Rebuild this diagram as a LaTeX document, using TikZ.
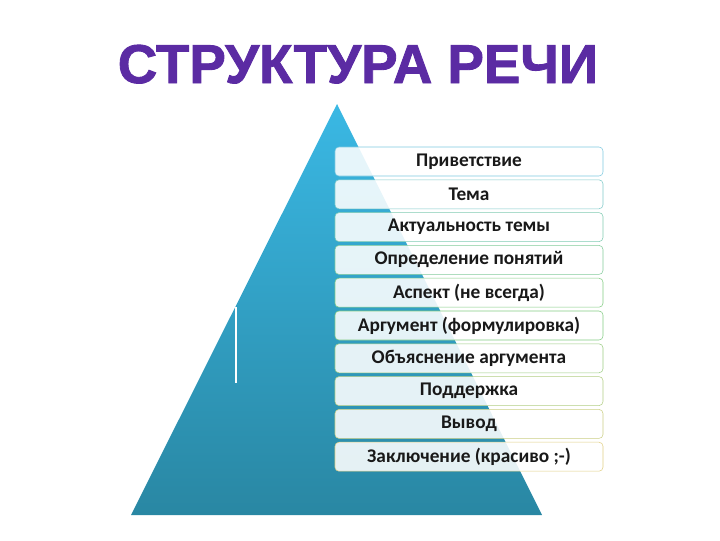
\documentclass[tikz,border=0pt]{standalone}
\usepackage{fontspec}
\setmainfont{Carlito}
\newfontfamily\headfont[BoldFeatures={FakeBold=1.6}]{Liberation Sans}
\definecolor{pyrtop}{HTML}{3AB8E4}
\definecolor{pyrbot}{HTML}{2987A3}
\definecolor{bblue}{HTML}{7FC9E0}
\definecolor{bgreen}{HTML}{84CC84}
\definecolor{byellow}{HTML}{E2D086}
\definecolor{headcol}{HTML}{5B2BA3}
\tikzset{
  stage/.style={draw, rounded corners=3pt, fill=white, fill opacity=0.88, text opacity=1,
    minimum width=201pt, minimum height=21.75pt, inner sep=0pt, text=black!90,
    font=\bfseries\fontsize{14.5}{17}\selectfont},
}
\begin{document}
\begin{tikzpicture}[x=0.75pt,y=0.75pt,yscale=-1,xscale=1]
            \useasboundingbox (0,0) rectangle (720,540);
            %title
            \node[anchor=base, text=headcol, font=\headfont\bfseries\fontsize{41}{48}\selectfont] (title) at (358,83) {СТРУКТУРА РЕЧИ};
            %
            %pyramid
            \shade[top color=pyrtop, bottom color=pyrbot] (337,104) -- (542,515) -- (131,515) -- cycle;
            \draw[white, line width=0.9pt] (236,307) -- (236,383);
            %
            %stages
            \foreach \txt [count=\i] in {Приветствие, Тема, Актуальность темы, Определение понятий, Аспект (не всегда), Аргумент (формулировка), Объяснение аргумента, Поддержка, Вывод, Заключение (красиво ;-)} {
                \pgfmathtruncatemacro\pa{25*(\i-1)}
                \pgfmathtruncatemacro\pb{25*(\i-6)}
                \ifnum\i<6 \edef\bc{bgreen!\pa!bblue}\else\edef\bc{byellow!\pb!bgreen}\fi
                \node[stage, draw=\bc] (s\i) at (469, {161.5 + 32.8 * (\i - 1)}) {\txt};
            }
        \end{tikzpicture}
\end{document}
